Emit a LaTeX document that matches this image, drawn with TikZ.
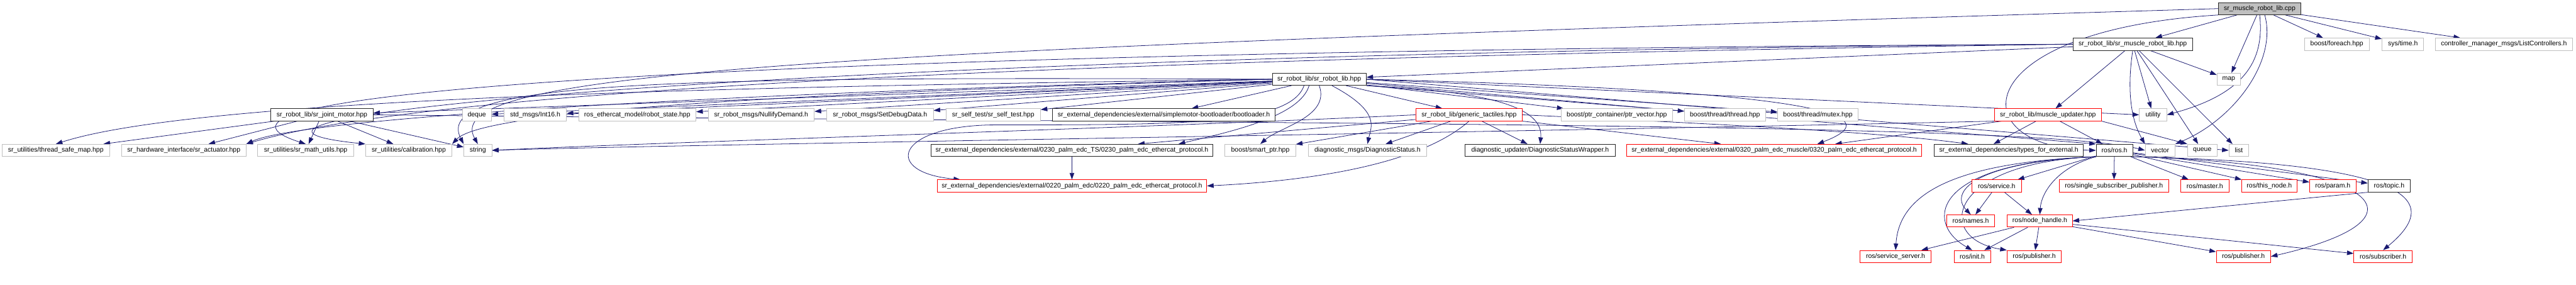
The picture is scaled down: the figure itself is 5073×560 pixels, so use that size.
\documentclass[tikz,border=0pt]{standalone}
\usepackage{fontspec}
\setmainfont{Liberation Sans}
\usetikzlibrary{arrows.meta,backgrounds}
\definecolor{edgeblue}{HTML}{191970}
\definecolor{extgray}{HTML}{BFBFBF}
\tikzset{
  file/.style={draw, line width=0.6pt, fill=white, minimum height=0.48cm, inner xsep=1pt, inner ysep=0pt, font=\fontsize{7.4}{8}\selectfont},
  known/.style={file, draw=black!85},
  extern/.style={file, draw=extgray},
  cut/.style={file, draw=red},
  inc/.style={edgeblue, line width=0.55pt, -{Triangle[length=0.26cm, width=0.18cm]}},
}
\begin{document}
\begin{tikzpicture}[x=0.02cm,y=-0.02cm]
        \useasboundingbox (0,0) rectangle (5073,560);

        \node[known, fill=extgray, minimum width=3.26cm] (cpp) at (4450,17) {sr\_muscle\_robot\_lib.cpp};

        \node[known, minimum width=4.70cm] (mhpp) at (4200,87) {sr\_robot\_lib/sr\_muscle\_robot\_lib.hpp};
        \node[extern, minimum width=2.54cm] (foreach) at (4602,87) {boost/foreach.hpp};
        \node[extern, minimum width=1.64cm] (systime) at (4732,87) {sys/time.h};
        \node[extern, minimum width=5.42cm] (listctrl) at (4931,87) {controller\_manager\_msgs/ListControllers.h};

        \node[known, minimum width=3.70cm] (robotlib) at (2598,156) {sr\_robot\_lib/sr\_robot\_lib.hpp};
        \node[extern, minimum width=0.92cm] (map) at (4389,156) {map};

        \node[known, minimum width=4.02cm] (jointmotor) at (634,226) {sr\_robot\_lib/sr\_joint\_motor.hpp};
        \node[extern, minimum width=1.14cm] (deque) at (939,226) {deque};
        \node[extern, minimum width=2.46cm] (int16) at (1054,226) {std\_msgs/Int16.h};
        \node[extern, minimum width=4.62cm] (robotstate) at (1255,226) {ros\_ethercat\_model/robot\_state.hpp};
        \node[extern, minimum width=4.18cm] (nullify) at (1499,226) {sr\_robot\_msgs/NullifyDemand.h};
        \node[extern, minimum width=4.20cm] (setdebug) at (1733,226) {sr\_robot\_msgs/SetDebugData.h};
        \node[extern, minimum width=3.72cm] (selftest) at (1956,226) {sr\_self\_test/sr\_self\_test.hpp};
        \node[known, minimum width=8.76cm] (bootloader) at (2292,226) {sr\_external\_dependencies/external/simplemotor-bootloader/bootloader.h};
        \node[cut, minimum width=4.20cm] (tactiles) at (2893,226) {sr\_robot\_lib/generic\_tactiles.hpp};
        \node[extern, minimum width=4.40cm] (ptrvec) at (3184,226) {boost/ptr\_container/ptr\_vector.hpp};
        \node[extern, minimum width=3.18cm] (thread) at (3397,226) {boost/thread/thread.hpp};
        \node[extern, minimum width=3.16cm] (mutex) at (3580,226) {boost/thread/mutex.hpp};
        \node[cut, minimum width=4.22cm] (updater) at (4033,226) {sr\_robot\_lib/muscle\_updater.hpp};
        \node[extern, minimum width=1.08cm] (utility) at (4240,226) {utility};

        \node[extern, minimum width=4.22cm] (safemap) at (110,296) {sr\_utilities/thread\_safe\_map.hpp};
        \node[extern, minimum width=4.90cm] (actuator) at (362,296) {sr\_hardware\_interface/sr\_actuator.hpp};
        \node[extern, minimum width=3.78cm] (mathutils) at (602,296) {sr\_utilities/sr\_math\_utils.hpp};
        \node[extern, minimum width=3.40cm] (calib) at (805,296) {sr\_utilities/calibration.hpp};
        \node[extern, minimum width=1.10cm] (string) at (941,296) {string};
        \node[known, minimum width=11.10cm] (proto230) at (2111,296) {sr\_external\_dependencies/external/0230\_palm\_edc\_TS/0230\_palm\_edc\_ethercat\_protocol.h};
        \node[extern, minimum width=2.78cm] (smartptr) at (2482,296) {boost/smart\_ptr.hpp};
        \node[extern, minimum width=4.68cm] (diagstat) at (2693,296) {diagnostic\_msgs/DiagnosticStatus.h};
        \node[known, minimum width=5.90cm] (diagwrap) at (3033,296) {diagnostic\_updater/DiagnosticStatusWrapper.h};
        \node[cut, minimum width=11.62cm] (proto320) at (3494,296) {sr\_external\_dependencies/external/0320\_palm\_edc\_muscle/0320\_palm\_edc\_ethercat\_protocol.h};
        \node[known, minimum width=5.88cm] (types) at (3956,296) {sr\_external\_dependencies/types\_for\_external.h};
        \node[known, minimum width=1.44cm] (rosh) at (4164,296) {ros/ros.h};
        \node[extern, minimum width=1.18cm] (vector) at (4254,296) {vector};
        \node[extern, minimum width=1.16cm] (queue) at (4337,296) {queue};
        \node[extern, minimum width=0.78cm] (list) at (4409,296) {list};

        \node[cut, minimum width=10.62cm] (proto220) at (2111,366) {sr\_external\_dependencies/external/0220\_palm\_edc/0220\_palm\_edc\_ethercat\_protocol.h};
        \node[cut, minimum width=1.96cm] (service) at (3932,366) {ros/service.h};
        \node[cut, minimum width=4.30cm] (singlesub) at (4163,366) {ros/single\_subscriber\_publisher.h};
        \node[cut, minimum width=1.90cm] (master) at (4342,366) {ros/master.h};
        \node[cut, minimum width=2.20cm] (thisnode) at (4469,366) {ros/this\_node.h};
        \node[cut, minimum width=1.82cm] (param) at (4594,366) {ros/param.h};
        \node[known, minimum width=1.66cm] (topic) at (4705,366) {ros/topic.h};

        \node[cut, minimum width=1.88cm] (names) at (3881,435) {ros/names.h};
        \node[cut, minimum width=2.56cm] (nodehandle) at (4017,435) {ros/node\_handle.h};

        \node[cut, minimum width=2.80cm] (srvserver) at (3733,505) {ros/service\_server.h};
        \node[cut, minimum width=1.44cm] (init) at (3884,505) {ros/init.h};
        \node[cut, minimum width=2.14cm] (pubA) at (4006,505) {ros/publisher.h};
        \node[cut, minimum width=2.14cm] (pubB) at (4418,505) {ros/publisher.h};
        \node[cut, minimum width=2.30cm] (subscriber) at (4693,505) {ros/subscriber.h};

        \begin{scope}[on background layer]
        \draw[inc] (cpp) -- (mhpp);
        \draw[inc] (cpp) -- (foreach);
        \draw[inc] (cpp) -- (systime);
        \draw[inc] (cpp) -- (listctrl);
        \draw[inc] (cpp) -- (map);
        \draw[inc] (cpp.south) .. controls (4460,120) and (4420,185) .. (utility.east);
        \draw[inc] ([xshift=0.2cm]cpp.south) .. controls (4485,120) and (4400,235) .. (vector.north east);
        \draw[inc] (cpp.west) .. controls (1600,100) and (860,140) .. (string.north);
        \draw[inc] (cpp.south west) .. controls (3870,60) and (3860,290) .. (rosh.west);

        \draw[inc] (mhpp) -- (robotlib);
        \draw[inc] (mhpp) -- (map);
        \draw[inc] (mhpp) -- (utility);
        \draw[inc] (mhpp) -- (queue);
        \draw[inc] (mhpp) -- (list);
        \draw[inc] (mhpp) -- (updater);
        \draw[inc] (mhpp.south) .. controls (4185,200) and (4205,250) .. (vector.north west);
        \draw[inc] (mhpp.west) .. controls (1500,100) and (280,180) .. (mathutils.north);
        \draw[inc] (mhpp.west) .. controls (1500,106) and (250,235) .. (calib.north west);
        \draw[inc] (mhpp.west) .. controls (2500,110) and (900,160) .. (actuator.north east);

        \draw[inc] (robotlib) -- (jointmotor);
        \draw[inc] (robotlib) -- (deque);
        \draw[inc] (robotlib) -- (int16);
        \draw[inc] (robotlib) -- (robotstate);
        \draw[inc] (robotlib) -- (nullify);
        \draw[inc] (robotlib) -- (setdebug);
        \draw[inc] (robotlib) -- (selftest);
        \draw[inc] (robotlib) -- (bootloader);
        \draw[inc] (robotlib) -- (tactiles);
        \draw[inc] (robotlib) -- (ptrvec);
        \draw[inc] (robotlib) -- (thread);
        \draw[inc] (robotlib) -- (mutex);
        \draw[inc] (robotlib.west) .. controls (1500,170) and (400,190) .. (safemap.north);
        \draw[inc] (robotlib.west) .. controls (1500,180) and (600,230) .. (actuator.north east);
        \draw[inc] (robotlib.west) .. controls (1500,185) and (950,220) .. (calib.north east);
        \draw[inc] (robotlib.west) .. controls (1300,150) and (850,160) .. (string.north west);
        \draw[inc] (robotlib.south) .. controls (2620,230) and (2520,250) .. (smartptr.north);
        \draw[inc] ([xshift=0.5cm]robotlib.south) .. controls (2720,220) and (2700,250) .. (diagstat.north);
        \draw[inc] (robotlib.south east) .. controls (2930,180) and (3040,210) .. (diagwrap.north);
        \draw[inc] ([xshift=-0.4cm]robotlib.south) .. controls (2560,230) and (2420,260) .. ([xshift=4.2cm]proto230.north);
        \draw[inc] ([xshift=-0.6cm]robotlib.south) .. controls (2540,250) and (2300,245) .. (1950,246) .. controls (1760,250) and (1740,340) .. ([xshift=-4.4cm]proto220.north);
        \draw[inc] (robotlib.east) .. controls (3450,175) and (3760,215) .. ([xshift=1.7cm]proto320.north);
        \draw[inc] (robotlib.east) -- (utility.west);
        \draw[inc] (robotlib.east) -- (list.west);
        \draw[inc] (robotlib.south east) -- (rosh.north west);

        \draw[inc] (jointmotor) -- (actuator);
        \draw[inc] (jointmotor) -- (safemap);
        \draw[inc] (jointmotor) -- (mathutils);
        \draw[inc] (jointmotor) -- (calib);
        \draw[inc] (jointmotor) -- (string);
        \draw[inc] (jointmotor.east) .. controls (2500,245) and (4000,240) .. (vector.west);

        \draw[inc] (tactiles) -- (diagstat);
        \draw[inc] (tactiles) -- (diagwrap);
        \draw[inc] (tactiles) -- (smartptr);
        \draw[inc] (tactiles) -- ([xshift=2.6cm]proto230.north);
        \draw[inc] (tactiles.south) .. controls (2800,320) and (2600,355) .. (proto220.east);
        \draw[inc] (tactiles.south east) -- ([xshift=-2.1cm]proto320.north);
        \draw[inc] (tactiles.west) .. controls (2300,250) and (1300,280) .. (string.east);
        \draw[inc] (tactiles.east) .. controls (3400,245) and (3700,260) .. ([xshift=-1.6cm]types.north);

        \draw[inc] (updater) -- ([xshift=-0.6cm]types.north);
        \draw[inc] (updater) -- (rosh);
        \draw[inc] (updater) -- ([xshift=2.4cm]proto320.north);
        \draw[inc] (updater.south east) -- (queue.north west);
        \draw[inc] (updater.south west) .. controls (3000,260) and (1300,285) .. (string.east);

        \draw[inc] (proto230) -- (proto220);

        \draw[inc] (rosh) -- (service);
        \draw[inc] (rosh) -- (singlesub);
        \draw[inc] (rosh) -- (master);
        \draw[inc] (rosh) -- (thisnode);
        \draw[inc] (rosh) -- (param);
        \draw[inc] (rosh) -- (topic);
        \draw[inc] (rosh.south west) .. controls (3880,320) and (3840,380) .. (names.north);
        \draw[inc] (rosh.south west) .. controls (4050,330) and (4020,380) .. (nodehandle.north);
        \draw[inc] (rosh.south west) .. controls (3800,320) and (3790,440) .. (init.north);
        \draw[inc] (rosh.south west) .. controls (3830,320) and (3810,470) .. (pubA.north west);
        \draw[inc] (rosh.south west) .. controls (3850,320) and (3740,380) .. (srvserver.north);
        \draw[inc] (rosh.south east) .. controls (4700,320) and (4830,380) .. (subscriber.north);
        \draw[inc] (rosh.south east) .. controls (4690,322) and (4800,430) .. (pubB.east);

        \draw[inc] (service) -- (names);
        \draw[inc] (service) -- (nodehandle);
        \draw[inc] (topic.south west) -- (nodehandle.east);
        \draw[inc] (nodehandle) -- (srvserver);
        \draw[inc] (nodehandle) -- (init);
        \draw[inc] (nodehandle) -- (pubA);
        \draw[inc] (nodehandle) -- (pubB);
        \draw[inc] (nodehandle) -- (subscriber);
        \end{scope}
    \end{tikzpicture}
\end{document}
